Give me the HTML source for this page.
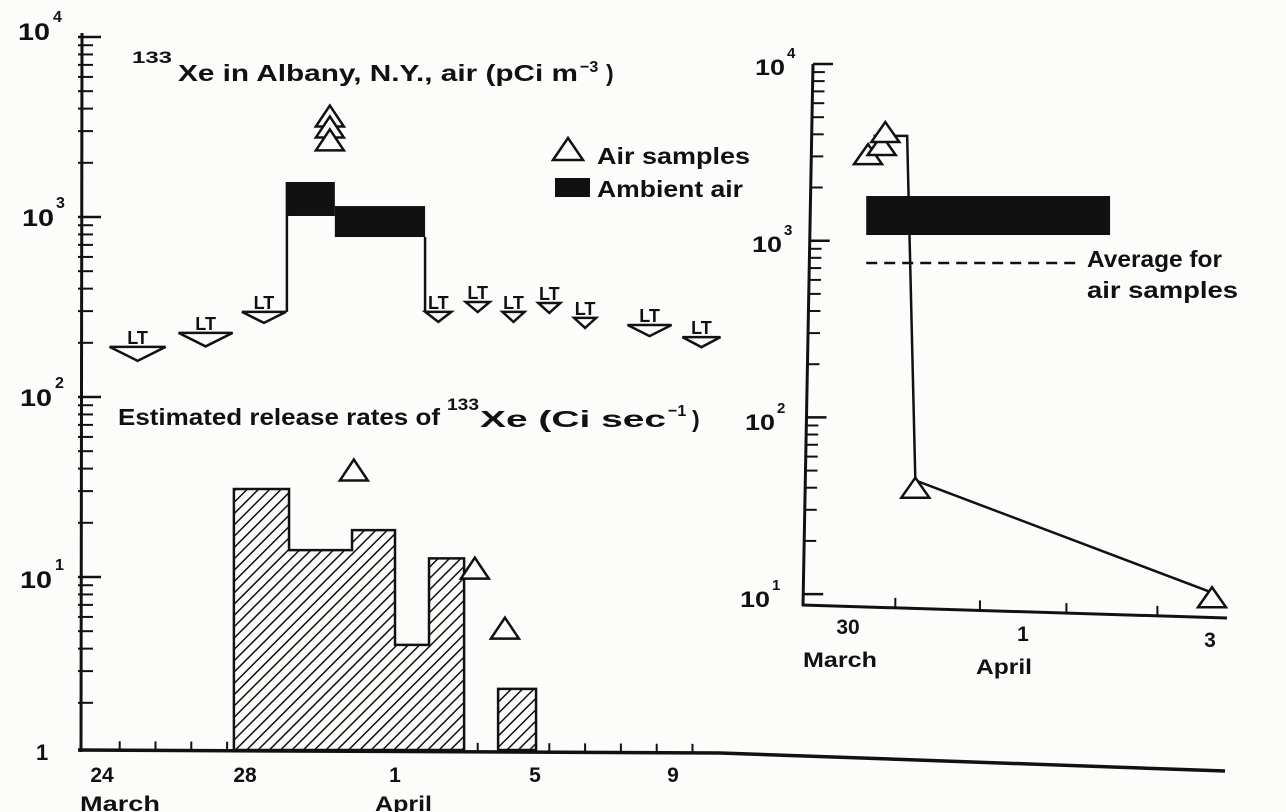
<!DOCTYPE html>
<html><head><meta charset="utf-8"><style>
html,body{margin:0;padding:0;background:#fcfcfb;}
svg{display:block;font-family:"Liberation Sans",sans-serif;font-weight:bold;fill:#111;}
</style></head><body>
<svg id="fig" width="1286" height="812" viewBox="0 0 1286 812" xmlns="http://www.w3.org/2000/svg">
<defs>
<pattern id="hatch" patternUnits="userSpaceOnUse" width="8" height="8" patternTransform="rotate(45)">
<rect width="8" height="8" fill="#fcfcfb"/>
<line x1="0" y1="0" x2="0" y2="8" stroke="#111" stroke-width="3"/>
</pattern>
</defs>
<rect width="1286" height="812" fill="#fcfcfb"/>
<g id="left"></g>
<g id="inset"></g>

<g font-size="24">
<text x="18" y="40" textLength="32" lengthAdjust="spacingAndGlyphs">10</text><text x="53" y="22" font-size="16">4</text>
<text x="22" y="226" textLength="32" lengthAdjust="spacingAndGlyphs">10</text><text x="56" y="208" font-size="16">3</text>
<text x="20" y="406" textLength="32" lengthAdjust="spacingAndGlyphs">10</text><text x="55" y="388" font-size="16">2</text>
<text x="20" y="588" textLength="32" lengthAdjust="spacingAndGlyphs">10</text><text x="55" y="570" font-size="16">1</text>
<text x="36" y="760" font-size="22">1</text>
</g>
<g font-size="21">
<text x="102" y="782" text-anchor="middle">24</text>
<text x="245" y="782" text-anchor="middle">28</text>
<text x="395" y="782" text-anchor="middle">1</text>
<text x="535" y="782" text-anchor="middle">5</text>
<text x="673" y="782" text-anchor="middle">9</text>
<text x="80" y="811" textLength="80" lengthAdjust="spacingAndGlyphs">March</text>
<text x="375" y="811" textLength="57" lengthAdjust="spacingAndGlyphs">April</text>
</g>
<g>
<text x="132" y="63" font-size="17" textLength="40" lengthAdjust="spacingAndGlyphs">133</text>
<text x="178" y="81" font-size="23" textLength="400" lengthAdjust="spacingAndGlyphs">Xe in Albany, N.Y., air (pCi m</text>
<text x="580" y="72" font-size="16">−3</text>
<text x="606" y="81" font-size="23">)</text>
</g>
<g>
<text x="118" y="425" font-size="23" textLength="322" lengthAdjust="spacingAndGlyphs">Estimated release rates of</text>
<text x="447" y="410" font-size="17" textLength="32" lengthAdjust="spacingAndGlyphs">133</text>
<text x="480" y="427" font-size="23" textLength="186" lengthAdjust="spacingAndGlyphs">Xe (Ci sec</text>
<text x="668" y="416" font-size="16">−1</text>
<text x="692" y="427" font-size="23">)</text>
</g>
<g>
<polygon points="553,160 568,138 583,160" fill="none" stroke="#111" stroke-width="2.5"/>
<text x="597" y="164" font-size="23" textLength="153" lengthAdjust="spacingAndGlyphs">Air samples</text>
<rect x="555" y="178" width="35" height="19" fill="#111"/>
<text x="597" y="197" font-size="23" textLength="146" lengthAdjust="spacingAndGlyphs">Ambient air</text>
</g>
<g font-size="22">
<text x="755" y="75" textLength="30" lengthAdjust="spacingAndGlyphs">10</text><text x="787" y="58" font-size="15">4</text>
<text x="752" y="252" textLength="30" lengthAdjust="spacingAndGlyphs">10</text><text x="784" y="235" font-size="15">3</text>
<text x="745" y="430" textLength="30" lengthAdjust="spacingAndGlyphs">10</text><text x="777" y="413" font-size="15">2</text>
<text x="740" y="607" textLength="30" lengthAdjust="spacingAndGlyphs">10</text><text x="772" y="590" font-size="15">1</text>
<text x="848" y="634" text-anchor="middle" font-size="21">30</text>
<text x="803" y="667" font-size="21" textLength="74" lengthAdjust="spacingAndGlyphs">March</text>
<text x="1023" y="641" text-anchor="middle" font-size="21">1</text>
<text x="976" y="674" font-size="21" textLength="56" lengthAdjust="spacingAndGlyphs">April</text>
<text x="1210" y="647" text-anchor="middle" font-size="21">3</text>
<text x="1087" y="267" font-size="23" textLength="135" lengthAdjust="spacingAndGlyphs">Average for</text>
<text x="1087" y="298" font-size="23" textLength="151" lengthAdjust="spacingAndGlyphs">air samples</text>
</g>
</svg>
<script>
// ---------- main chart data ----------
const releaseStart = [27.69, 29.23, 30.99, 32.19, 33.14, 35.07];
const releaseEnd   = [29.23, 30.99, 32.19, 33.14, 34.12, 36.13];
const releaseRate  = [30.8, 14.1, 18.2, 4.2, 12.7, 2.39];
const ambientStart = [29.17, 30.51];
const ambientEnd   = [30.51, 33.03];
const ambientHigh  = [1565, 1150];
const ambientLow   = [1013, 774];
const airDays   = [30.37, 30.37, 30.37, 31.04, 34.42, 35.26];
const airValues = [3640, 3160, 2680, 39.3, 11.2, 5.2];
const ltDays   = [25.0, 26.9, 28.53, 33.4, 34.5, 35.5, 36.5, 37.5, 39.3, 40.75];
const ltValues = [190, 227, 297, 297, 337, 297, 333, 275, 251, 215];
const ltHalf   = [28, 27, 22, 13, 12, 11, 11, 11, 22, 19];
const xTickDays = [24.5,25.5,26.5,27.5,28.5,29.5,30.5,31.5,32.5,33.5,34.5,35.5,36.5,37.5,38.5,39.5,40.5];
const yDecades = [0,1,2,3,4];
// ---------- inset data ----------
const insetAirDays   = [30.22, 30.37, 30.41, 30.74, 34.0];
const insetAirValues = [3090, 3480, 4120, 40, 9.6];
const insetLineDays   = [30.28, 30.65, 30.74, 34.0];
const insetLineValues = [3920, 3920, 44, 10.2];
const insetBandStart = [30.2];
const insetBandEnd   = [32.88];
const insetBandHigh  = [1790];
const insetBandLow   = [1077];
const insetAvgValue  = [748];
const insetAvgStart  = [30.2];
const insetAvgEnd    = [32.55];
const insetTickDays  = [30.52, 31.45, 32.4, 33.4];
const insetDecades   = [1,2,3,4];

const NS = "http://www.w3.org/2000/svg";
function mk(tag, attrs, parent){const e=document.createElementNS(NS,tag);for(const k in attrs)e.setAttribute(k,attrs[k]);parent.appendChild(e);return e;}
const xL = d => 245 + (d - 28) * 35.8;
const yL = v => Math.min(750, 757 - 180 * Math.log10(v));
const xI = d => 848 + (d - 30) * 91;
const yI = v => 64 + (4 - Math.log10(v)) * 176.7;
const axIx = y => 813 - (y - 64) * 10 / 541;

const L = document.getElementById('left');
const I = document.getElementById('inset');

let e = mk('line',{x1:82,y1:33,x2:81,y2:752,stroke:'#111','stroke-width':3},L);


e = mk('polyline',{points:'78,750 720,753 1225,771',fill:'none',stroke:'#111','stroke-width':3.5},L);


yDecades.forEach(dec=>{
  const y = dec===0?750:yL(Math.pow(10,dec));
  e = mk('line',{x1:78,y1:y,x2:101,y2:y,stroke:'#111','stroke-width':2.5},L);
  
  
  if(dec<4){for(let m=2;m<=9;m++){
    const yy = yL(m*Math.pow(10,dec));
    e = mk('line',{x1:78,y1:yy,x2:93,y2:yy,stroke:'#111','stroke-width':2},L);
    
    
  }}
});
xTickDays.forEach(d=>{
  const x = xL(d); const yb = x<720 ? 750 + (x-78)*3/642 : 753+(x-720)*18/505;
  e = mk('line',{x1:x,y1:yb,x2:x,y2:yb-9,stroke:'#111','stroke-width':2},L);
  
  
});
const groups = [[0,1,2,3,4],[5]];
groups.forEach(g=>{
  let p = [[xL(releaseStart[g[0]]),750]];
  g.forEach(i=>{p.push([xL(releaseStart[i]),yL(releaseRate[i])]);p.push([xL(releaseEnd[i]),yL(releaseRate[i])]);});
  p.push([xL(releaseEnd[g[g.length-1]]),750]);
  e = mk('polygon',{points:p.map(q=>q.join(',')).join(' '),fill:'url(#hatch)',stroke:'#111','stroke-width':2.5},L);
  
  
});
ambientStart.forEach((s,i)=>{
  e = mk('rect',{x:xL(s),y:yL(ambientHigh[i]),width:xL(ambientEnd[i])-xL(s),height:yL(ambientLow[i])-yL(ambientHigh[i]),fill:'#111'},L);
  
  
});
e = mk('line',{x1:xL(ambientStart[0]),y1:yL(ltValues[2]),x2:xL(ambientStart[0]),y2:yL(ambientHigh[0]),stroke:'#111','stroke-width':2.5},L);


e = mk('line',{x1:xL(ambientEnd[1]),y1:yL(ambientLow[1]),x2:xL(ambientEnd[1]),y2:yL(ltValues[3]),stroke:'#111','stroke-width':2.5},L);


ltDays.forEach((d,i)=>{
  const cx=xL(d), ty=yL(ltValues[i]), hw=ltHalf[i], h=Math.max(10,hw*0.5);
  e = mk('polygon',{points:`${cx-hw},${ty} ${cx+hw},${ty} ${cx},${ty+h}`,fill:'none',stroke:'#111','stroke-width':2.5},L);
  
  
  e = mk('text',{x:cx,y:ty-3,'text-anchor':'middle','font-size':18},L);
  e.textContent='LT';
  
  
});
function tri(parent,cx,cy,w,h){
  return mk('polygon',{points:`${cx-w/2},${cy+h/2} ${cx},${cy-h/2} ${cx+w/2},${cy+h/2}`,fill:'#fcfcfb',stroke:'#111','stroke-width':2.5},parent);
}
airDays.forEach((d,i)=>{
  e = tri(L,xL(d),yL(airValues[i]),28,21);
  
  
});

e = mk('line',{x1:813,y1:64,x2:803,y2:606,stroke:'#111','stroke-width':3},I);


e = mk('polyline',{points:'802,605 1227,618',fill:'none',stroke:'#111','stroke-width':3},I);


insetDecades.forEach(dec=>{
  const y=yI(Math.pow(10,dec)), ax=axIx(y);
  e = mk('line',{x1:ax,y1:y,x2:ax+20,y2:y,stroke:'#111','stroke-width':2.5},I);
  
  
  if(dec<4){for(let m=2;m<=9;m++){
    const yy=yI(m*Math.pow(10,dec)), a2=axIx(yy);
    e = mk('line',{x1:a2,y1:yy,x2:a2+12,y2:yy,stroke:'#111','stroke-width':2},I);
    
    
  }}
});
insetTickDays.forEach(d=>{
  const x=xI(d), yb=605+(x-802)*13/425;
  e = mk('line',{x1:x,y1:yb,x2:x,y2:yb-10,stroke:'#111','stroke-width':2},I);
  
  
});
insetBandStart.forEach((s,i)=>{
  e = mk('rect',{x:xI(s),y:yI(insetBandHigh[i]),width:xI(insetBandEnd[i])-xI(s),height:yI(insetBandLow[i])-yI(insetBandHigh[i]),fill:'#111'},I);
  
  
});
insetAvgValue.forEach((v,i)=>{
  e = mk('line',{x1:xI(insetAvgStart[i]),y1:yI(v),x2:xI(insetAvgEnd[i]),y2:yI(v),stroke:'#111','stroke-width':2.5,'stroke-dasharray':'11,7'},I);
  
  
});
e = mk('polyline',{points:insetLineDays.map((d,i)=>xI(d)+','+yI(insetLineValues[i])).join(' '),fill:'none',stroke:'#111','stroke-width':2.5},I);


insetAirDays.forEach((d,i)=>{
  e = tri(I,xI(d),yI(insetAirValues[i]),28,20);
  
  
});
</script>
</body></html>
